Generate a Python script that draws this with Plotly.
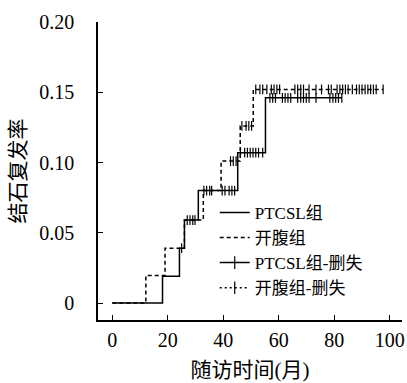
import plotly.graph_objects as go

# PTCSL组 (solid) step curve
ptcsl_t = [0, 18.1, 24.2, 26.0, 31.0, 45.2, 55.2, 82.7]
ptcsl_v = [0, 0.019, 0.039, 0.059, 0.080, 0.107, 0.146, 0.146]
# 开腹组 (dashed) step curve
open_t = [0, 12.1, 19.0, 26.0, 32.8, 39.2, 46.1, 50.8, 97.6]
open_v = [0, 0.0196, 0.039, 0.059, 0.080, 0.101, 0.126, 0.152, 0.152]

# censored observations
ptcsl_cens_t = [25.0, 27.0, 28.0, 29.0, 29.8,
                33.0, 34.0, 35.1, 35.8, 39.6, 40.6, 42.1, 43.1, 44.1,
                46.2, 47.7, 48.7, 49.7, 50.7, 51.7, 52.7, 54.2,
                56.8, 57.8, 58.8, 61.3, 62.3, 63.3, 64.3, 66.8, 67.9, 68.9,
                69.9, 70.9, 73.4, 78.4, 79.5, 80.5, 81.5, 82.7]
ptcsl_cens_v = [0.039] + [0.059] * 4 + [0.080] * 9 + [0.107] * 8 + [0.146] * 18

open_cens_t = [42.6, 43.6, 44.6,
               46.7, 48.2, 49.2, 50.2,
               51.7, 53.2, 54.2, 55.7, 57.3, 58.3, 59.3, 60.3,
               65.8, 66.8, 67.9, 68.9, 70.9, 73.4, 75.4, 77.9, 78.9,
               81.0, 82.0, 83.0, 84.0, 85.0, 86.5, 88.0, 89.0, 90.0, 91.1,
               92.1, 93.1, 94.1, 95.1, 97.6]
open_cens_v = [0.101] * 3 + [0.126] * 4 + [0.152] * 32

y_ticks = [0, 0.05, 0.10, 0.15, 0.20]
y_tick_text = ["0", "0.05", "0.10", "0.15", "0.20"]
x_ticks = [0, 20, 40, 60, 80, 100]

FONT = "Liberation Serif, Noto Sans CJK SC"

fig = go.Figure()
fig.add_trace(go.Scatter(x=ptcsl_t, y=ptcsl_v, mode="lines", line_shape="hv",
                         line=dict(color="black", width=1.5), name="PTCSL组"))
fig.add_trace(go.Scatter(x=open_t, y=open_v, mode="lines", line_shape="hv",
                         line=dict(color="black", width=1.5, dash="4px,3px"), name="开腹组"))
fig.add_trace(go.Scatter(x=ptcsl_cens_t, y=ptcsl_cens_v, mode="markers", showlegend=False,
                         marker=dict(symbol="line-ns", size=7, line=dict(color="black", width=1.2))))
fig.add_trace(go.Scatter(x=open_cens_t, y=open_cens_v, mode="markers", showlegend=False,
                         marker=dict(symbol="line-ns", size=7, line=dict(color="black", width=1.2))))
# legend entries for censored marks
fig.add_trace(go.Scatter(x=[None], y=[None], mode="lines+markers", name="PTCSL组-删失",
                         line=dict(color="black", width=1.5),
                         marker=dict(symbol="line-ns", size=9, line=dict(color="black", width=1.2))))
fig.add_trace(go.Scatter(x=[None], y=[None], mode="lines+markers", name="开腹组-删失",
                         line=dict(color="black", width=1.5, dash="2px,3px"),
                         marker=dict(symbol="line-ns", size=9, line=dict(color="black", width=1.2))))

fig.update_layout(
    width=407, height=383,
    margin=dict(l=98, r=5, t=22, b=63, autoexpand=False),
    plot_bgcolor="white", paper_bgcolor="white",
    font=dict(family=FONT, size=20, color="black"),
    legend=dict(x=0.384, y=0.42, xanchor="left", yanchor="top",
                bgcolor="rgba(0,0,0,0)", font=dict(size=17), tracegroupgap=0,
                itemwidth=30),
    showlegend=True,
)
fig.update_xaxes(range=[-5.15, 104.4], tickvals=x_ticks, ticks="inside", ticklen=5,
                 ticklabelstandoff=1, tickfont=dict(size=20), automargin=False,
                 ticklabeloverflow="allow",
                 showline=True, linecolor="black", linewidth=1.5, tickcolor="black",
                 showgrid=False, zeroline=False, mirror=False,
                 title=dict(text="随访时间(月)", font=dict(size=21), standoff=13))
fig.update_yaxes(range=[-0.0121, 0.2], tickvals=y_ticks, ticktext=y_tick_text,
                 ticks="inside", ticklen=5, ticklabelstandoff=18, tickfont=dict(size=20),
                 automargin=False,
                 showline=True, linecolor="black", linewidth=1.5, tickcolor="black",
                 showgrid=False, zeroline=False,
                 title=dict(text="结石复发率", font=dict(size=21), standoff=8))

fig.write_html("out.html", config={"displayModeBar": False},
               post_script="document.body.style.margin='0px';")
